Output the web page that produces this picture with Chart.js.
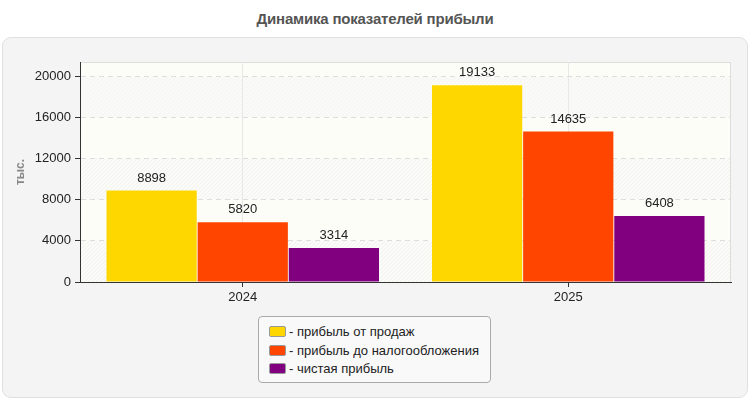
<!DOCTYPE html>
<html><head><meta charset="utf-8">
<script src="https://cdn.jsdelivr.net/npm/chart.js@4/dist/chart.umd.min.js"></script>
<style>
html,body{margin:0;padding:0;background:#fff;}
#wrap{position:relative;width:750px;height:400px;font-family:"Liberation Sans",Arial,sans-serif;}
#panel{position:absolute;left:2px;top:37px;width:744px;height:359px;background:#f4f4f4;border:1px solid #e0e0e0;border-radius:9px;}
#title{position:absolute;left:0;top:10px;width:750px;text-align:center;font-weight:bold;font-size:15px;color:#555;letter-spacing:-0.2px;}
canvas{position:absolute;left:0;top:0;}
#legend{position:absolute;left:258px;top:316px;width:233px;height:67px;background:#f9f9f9;border:1px solid #aaa;border-radius:4px;box-sizing:border-box;padding:6px 0 0 10px;}
.li{height:18.5px;font-size:13px;color:#222;line-height:18px;white-space:nowrap;}
.sw{display:inline-block;width:15px;height:9px;border:1px solid #999;border-radius:2px;vertical-align:-1px;margin-right:3px;}
</style></head>
<body>
<div id="wrap">
<div id="panel"></div>
<div id="title">Динамика показателей прибыли</div>
<canvas id="c" width="750" height="400"></canvas>
<div id="legend"></div>
</div>
<script>
const categories = ["2024", "2025"];
const seriesNames = ["прибыль от продаж", "прибыль до налогообложения", "чистая прибыль"];
const salesProfit = [8898, 19133];
const preTaxProfit = [5820, 14635];
const netProfit = [3314, 6408];
const seriesColors = ["#FFD700", "#FF4500", "#800080"];
const yTicks = [0, 4000, 8000, 12000, 16000, 20000];
const yMax = 21400;
const yTitle = "тыс.";

const seriesValues = [salesProfit, preTaxProfit, netProfit];

const lg = document.getElementById('legend');
seriesNames.forEach((n, i) => {
  const d = document.createElement('div');
  d.className = 'li';
  d.innerHTML = '<span class="sw" style="background:' + seriesColors[i] + '"></span>- ' + n;
  lg.appendChild(d);
});

const bgPlugin = {
  id: 'plotBg',
  beforeDraw(chart) {
    const {ctx, chartArea: a, scales: {y}} = chart;
    ctx.save();
    ctx.fillStyle = '#fdfdf8';
    ctx.fillRect(a.left, a.top, a.right - a.left, a.bottom - a.top);
    for (let k = 0; k < yTicks.length - 1; k += 2) {
      const yb = y.getPixelForValue(yTicks[k]);
      const yt = y.getPixelForValue(yTicks[k + 1]);
      ctx.save();
      ctx.beginPath();
      ctx.rect(a.left, yt, a.right - a.left, yb - yt);
      ctx.clip();
      ctx.fillStyle = '#fbfbf8';
      ctx.fillRect(a.left, yt, a.right - a.left, yb - yt);
      ctx.strokeStyle = '#f1f1f0';
      ctx.lineWidth = 1;
      ctx.beginPath();
      for (let x = a.left - 60; x < a.right + 60; x += 4) {
        ctx.moveTo(x, yb);
        ctx.lineTo(x + (yb - yt), yt);
      }
      ctx.stroke();
      ctx.restore();
    }
    ctx.strokeStyle = '#dddddd';
    ctx.lineWidth = 1;
    ctx.beginPath();
    ctx.moveTo(a.left, a.top + 0.5);
    ctx.lineTo(a.right - 0.5, a.top + 0.5);
    ctx.lineTo(a.right - 0.5, a.bottom);
    ctx.stroke();
    ctx.restore();
  }
};

const labelPlugin = {
  id: 'valLabels',
  afterDatasetsDraw(chart) {
    const ctx = chart.ctx;
    ctx.save();
    ctx.font = '13px "Liberation Sans", Arial, sans-serif';
    ctx.fillStyle = '#222';
    ctx.textAlign = 'center';
    ctx.textBaseline = 'bottom';
    chart.data.datasets.forEach((ds, i) => {
      chart.getDatasetMeta(i).data.forEach((bar, j) => {
        ctx.fillText(String(ds.data[j]), bar.x, bar.y - 6);
      });
    });
    ctx.restore();
  }
};

new Chart(document.getElementById('c'), {
  type: 'bar',
  data: {
    labels: categories,
    datasets: seriesNames.map((n, i) => ({
      label: n,
      data: seriesValues[i],
      backgroundColor: seriesColors[i],
      borderWidth: 0,
      categoryPercentage: 0.84,
      barPercentage: 0.99
    }))
  },
  options: {
    responsive: false,
    animation: false,
    layout: {padding: {left: 0, right: 19, top: 62, bottom: 88}},
    plugins: {legend: {display: false}, title: {display: false}, tooltip: {enabled: false}},
    scales: {
      x: {
        afterFit(s) { s.height = 30; },
        grid: {offset: false, color: '#e8e8e8', tickColor: '#333', tickLength: 5, drawOnChartArea: true},
        border: {color: '#333', width: 1},
        ticks: {color: '#222', font: {size: 13, family: '"Liberation Sans", Arial, sans-serif'}, padding: 3}
      },
      y: {
        min: 0, max: yMax,
        afterFit(s) { s.width = 80; },
        afterBuildTicks(s) { s.ticks = yTicks.map(v => ({value: v})); },
        grid: {color: '#dddddd', tickColor: '#333', tickLength: 5, tickBorderDash: [], drawOnChartArea: true},
        border: {color: '#333', width: 1, dash: [5, 4]},
        ticks: {color: '#222', font: {size: 13, family: '"Liberation Sans", Arial, sans-serif'}, padding: 4,
                callback: v => String(v)},
        title: {display: true, text: yTitle, color: '#888', font: {size: 12, weight: 'bold', family: '"Liberation Sans", Arial, sans-serif'}, padding: {top: 13, bottom: 0}}
      }
    }
  },
  plugins: [bgPlugin, labelPlugin]
});
</script>
</body></html>
